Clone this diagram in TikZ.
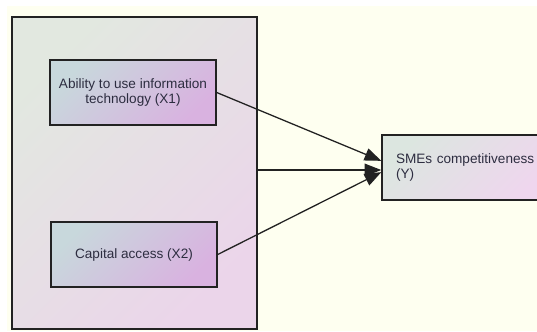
\documentclass[tikz,border=0pt]{standalone}
\usepackage{fontspec}
\setmainfont{Liberation Sans}
\usepackage{tikz}
\usetikzlibrary{arrows.meta, positioning, calc}
\definecolor{PaperIvory}{HTML}{FEFFF0}
\definecolor{FrameDark}{HTML}{222222}
\definecolor{InkNavy}{HTML}{2D2D40}
\definecolor{GroupTop}{HTML}{E2E8E0}
\definecolor{GroupBottom}{HTML}{EBD5EA}
\definecolor{VarTop}{HTML}{C8D8DC}
\definecolor{VarBottom}{HTML}{D9B2E0}
\definecolor{OutTop}{HTML}{DCE6E0}
\definecolor{OutBottom}{HTML}{EFD6EE}
\tikzset{
  groupbox/.style={rectangle, draw=FrameDark, line width=1.2pt, top color=GroupTop, bottom color=GroupBottom, shading angle=45, minimum width=7.35cm, minimum height=9.36cm},
  varbox/.style={rectangle, draw=FrameDark, line width=1.2pt, top color=VarTop, bottom color=VarBottom, shading angle=45, minimum width=4.98cm, minimum height=1.95cm, text=InkNavy, align=center, font=\fontsize{11.6}{13.6}\selectfont},
  outbox/.style={rectangle, draw=FrameDark, line width=1.2pt, top color=OutTop, bottom color=OutBottom, shading angle=45, minimum width=5.1cm, minimum height=1.95cm, inner xsep=0.42cm, text width=4.26cm, text=InkNavy, align=left, font=\fontsize{11.6}{13.6}\selectfont},
  arrow/.style={-{Triangle[length=0.5cm, width=0.38cm]}, line width=1.1pt, FrameDark}
}
\begin{document}
\begin{tikzpicture}[x=0.03cm, y=-0.03cm]
  % page and paper
  \fill[white] (0,0) rectangle (537,331);
  \fill[PaperIvory] (7,6) rectangle (537,331);
  \useasboundingbox (0,0) rectangle (537,331);

  \node[groupbox] (group) at (134.5,173) {};
  \node[varbox] (itskill) at (133,92.5) {Ability to use information\\technology (X1)};
  \node[varbox] (capital) at (134,254.5) {Capital access (X2)};
  \node[outbox] (compete) at (467,167.5) {SMEs competitiveness\\(Y)};

  \draw[arrow] (itskill.east) -- ([yshift=0.2cm]compete.west);
  \draw[arrow] ([yshift=0.09cm]group.east) -- ([yshift=-0.075cm]compete.west);
  \draw[arrow] (capital.east) -- ([yshift=-0.14cm]compete.west);
\end{tikzpicture}
\end{document}
